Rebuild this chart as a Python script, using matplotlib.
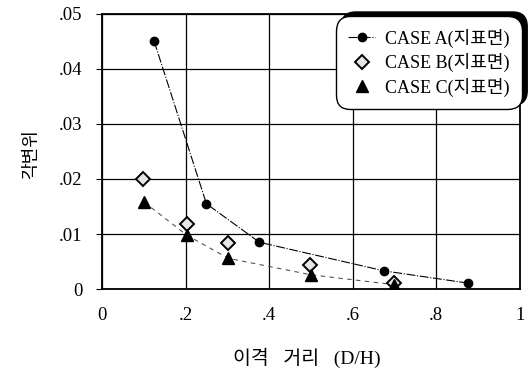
import matplotlib
matplotlib.use('Agg')
import matplotlib.pyplot as plt

# data
case_a_x = [0.125, 0.25, 0.377, 0.676, 0.875]
case_a_y = [0.0450, 0.0155, 0.0085, 0.0033, 0.0011]

case_b_x = [0.098, 0.203, 0.302, 0.499, 0.70]
case_b_y = [0.0200, 0.0119, 0.0083, 0.0044, 0.0011]

case_c_x = [0.101, 0.203, 0.302, 0.500, 0.70]
case_c_y = [0.0158, 0.0098, 0.0056, 0.0026, 0.0008]

x_ticks = [0, 0.2, 0.4, 0.6, 0.8, 1.0]
x_labels = ['0', '.2', '.4', '.6', '.8', '1']
y_ticks = [0, 0.01, 0.02, 0.03, 0.04, 0.05]
y_labels = ['0', '.01', '.02', '.03', '.04', '.05']

legend_labels = ['CASE A(지표면)', 'CASE B(지표면)', 'CASE C(지표면)']

plt.rcParams['font.family'] = ['Liberation Serif', 'Noto Sans CJK KR']

fig = plt.figure(figsize=(5.31, 3.74), dpi=100)
ax = fig.add_axes([0.192, 0.227, 0.787, 0.736])

ax.plot(case_a_x, case_a_y, color='black', lw=0.8, linestyle=(0, (8, 1.5, 1, 1.5)),
        marker='o', markersize=6, label=legend_labels[0], zorder=3)
ax.plot(case_b_x, case_b_y, linestyle='none', marker='D', markersize=7,
        markerfacecolor='#e6e6e6', markeredgecolor='black', markeredgewidth=1.4,
        label=legend_labels[1], zorder=3)
ax.plot(case_c_x, case_c_y, color='#555555', lw=0.8, linestyle=(0, (4, 4)), zorder=2)
ax.plot(case_c_x, case_c_y, linestyle='none', marker='^', markersize=9, color='black',
        label=legend_labels[2], zorder=4)

ax.set_xlim(0, 1)
ax.set_ylim(0, 0.05)
ax.set_xticks(x_ticks)
ax.set_xticklabels(x_labels)
ax.set_yticks(y_ticks)
ax.set_yticklabels(y_labels)
ax.tick_params(axis='x', length=0, pad=13, labelsize=13.5)
ax.tick_params(axis='y', length=4, direction='out', pad=10, labelsize=13.5)
ax.grid(True, color='black', lw=0.9)
for s in ax.spines.values():
    s.set_linewidth(1.3)

ax.set_ylabel('각변위', fontsize=13, family=['Noto Sans CJK KR'], va='center')
ax.yaxis.set_label_coords(-0.17, 0.49)
ax.set_xlabel('이격   거리   (D/H)', fontsize=14, family=['Liberation Serif', 'Noto Sans CJK KR'],
              va='center')
ax.xaxis.set_label_coords(0.49, -0.25)

leg = ax.legend(loc='upper right', bbox_to_anchor=(1.0, 0.985), fontsize=13,
                fancybox=True, framealpha=1, edgecolor='black', handlelength=1.5,
                handletextpad=0.5, borderpad=0.4, labelspacing=0.3, borderaxespad=0.2,
                shadow={'ox': 4, 'oy': 3, 'facecolor': 'black', 'edgecolor': 'black', 'alpha': 1})
leg.get_frame().set_linewidth(1.0)
leg.get_frame().set_boxstyle('round,pad=0.3,rounding_size=0.8')

fig.savefig('out.png', dpi=100)
